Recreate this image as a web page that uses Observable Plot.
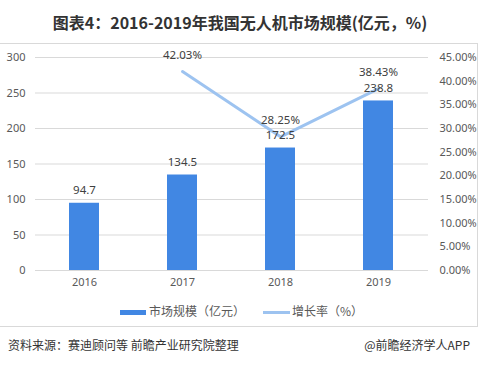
<!DOCTYPE html>
<html><head><meta charset="utf-8">
<script src="https://cdn.jsdelivr.net/npm/d3@7"></script>
<script src="https://cdn.jsdelivr.net/npm/@observablehq/plot@0.6"></script>
<style>
body{margin:0;background:#fff;font-family:"Noto Sans CJK SC","Noto Sans",sans-serif;}
#wrap{position:relative;width:480px;height:367px;overflow:hidden;}
#title{position:absolute;top:10px;left:0;width:480px;text-align:center;font-size:16px;font-weight:bold;color:#333;}
#frame{position:absolute;top:43px;left:-1px;width:479px;height:284px;border:1px solid #d9d9d9;box-sizing:border-box;}
#chart{position:absolute;top:43px;left:0;}
#legend{position:absolute;top:302px;left:0;width:480px;font-size:12px;color:#595959;}
#footer{position:absolute;top:336px;left:8px;width:462px;font-size:12px;color:#333;}
.sw{position:absolute;}
</style></head><body>
<div id="wrap">
<div id="title">图表4：2016-2019年我国无人机市场规模(亿元，%)</div>
<div id="frame"></div>
<div id="chart"></div>
<div id="legend">
  <div class="sw" style="left:120px;top:8px;width:26px;height:5px;background:#4187e3"></div>
  <div class="sw" style="left:149px;top:0px;">市场规模（亿元）</div>
  <div class="sw" style="left:263px;top:9px;width:27px;height:3px;background:#9dc3f0"></div>
  <div class="sw" style="left:292px;top:0px;">增长率（%）</div>
</div>
<div id="footer"><span>资料来源：赛迪顾问等 前瞻产业研究院整理</span><span style="float:right">@前瞻经济学人APP</span></div>
</div>
<script>
const years = ["2016","2017","2018","2019"];
const marketSize = [94.7, 134.5, 172.5, 238.8];
const growthRate = [null, 42.03, 28.25, 38.43];
const leftTicks = [0,50,100,150,200,250,300];
const rightTicks = [0,5,10,15,20,25,30,35,40,45];
const rightMax = 45, leftMax = 300;

const bars = years.map((y,i)=>({year:y, value:marketSize[i]}));
const rates = years.map((y,i)=>({year:y, rate:growthRate[i]})).filter(d=>d.rate!=null);
const toLeft = p => p / rightMax * leftMax;

const chart = Plot.plot({
  width: 480, height: 250,
  marginTop: 14, marginBottom: 23, marginLeft: 35, marginRight: 52,
  style: {fontFamily: "'Noto Sans', 'Open Sans', sans-serif", fontSize: "11px", color: "#595959", background: "transparent"},
  x: {domain: years, paddingInner: 0.69, paddingOuter: 0.345, label: null},
  y: {domain: [0, leftMax], label: null},
  marks: [
    Plot.ruleY(leftTicks, {stroke: "#d9d9d9", strokeWidth: 1}),
    Plot.axisY(leftTicks, {anchor: "left", tickSize: 0, tickPadding: 10, label: null, fill: "#595959"}),
    Plot.axisY(rightTicks.map(toLeft), {anchor: "right", tickSize: 0, tickPadding: 11, label: null, fill: "#595959",
      tickFormat: d => (d / leftMax * rightMax).toFixed(2) + "%"}),
    Plot.axisX({tickSize: 0, tickPadding: 8, label: null, fill: "#595959"}),
    Plot.barY(bars, {x: "year", y: "value", fill: "#4187e3"}),
    Plot.line(rates, {x: "year", y: d => toLeft(d.rate), stroke: "#9dc3f0", strokeWidth: 3}),
    Plot.text(bars, {x: "year", y: "value", text: d => String(d.value), dy: -13, fill: "#404040", fontSize: 11.5}),
    Plot.text(rates, {x: "year", y: d => toLeft(d.rate), text: d => d.rate.toFixed(2) + "%", dy: -16, fill: "#404040", fontSize: 11.5})
  ]
});
document.getElementById("chart").appendChild(chart);
</script>
</body></html>
